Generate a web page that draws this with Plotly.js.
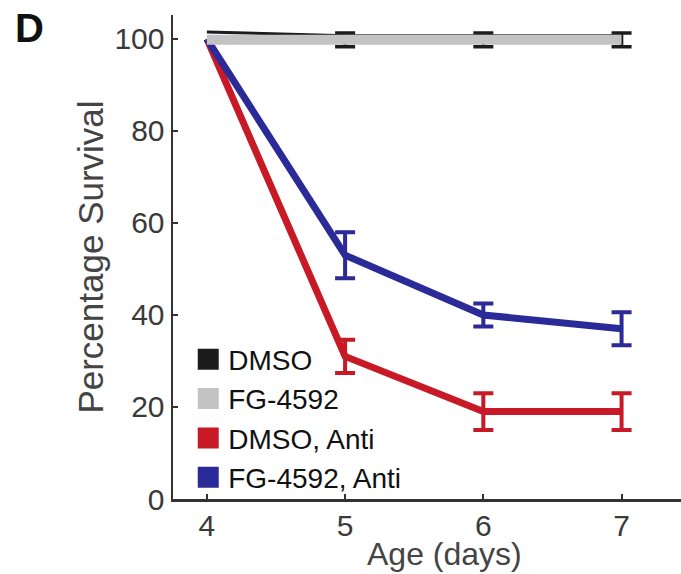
<!DOCTYPE html>
<html>
<head>
<meta charset="utf-8">
<script src="https://cdn.plot.ly/plotly-3.0.1.min.js"></script>
<style>html,body{margin:0;padding:0;background:#fff;}#chart{width:681px;height:574px;}</style>
</head>
<body>
<div id="chart"></div>
<script>
// Age (days)
var ages = [4, 5, 6, 7];
var xTickLabels = ['4', '5', '6', '7'];
var yTickVals = [0, 20, 40, 60, 80, 100];

// Percentage survival per group
var dmso = [101.5, 100.7, 100.7, 100.7];
var fg4592 = [99.8, 99.8, 99.8, 99.8];
var fg4592Err = [NaN, 1.5, 1.5, 1.5];
var dmsoAnti = [100, 31, 19, 19];
var dmsoAntiErr = [NaN, 3.6, 4, 4];
var fgAnti = [100, 53, 40, 37];
var fgAntiErr = [NaN, 5, 2.5, 3.6];

var names = ['DMSO', 'FG-4592', 'DMSO, Anti', 'FG-4592, Anti'];
var colors = ['#1c1c1c', '#c3c3c3', '#c81a26', '#2a2a98'];

var font = 'Liberation Sans, Arial, Helvetica, sans-serif';

var traces = [
  {x: ages, y: dmsoAnti, mode: 'lines', showlegend: false,
   line: {color: colors[2], width: 7},
   error_y: {type: 'data', array: dmsoAntiErr, color: colors[2], thickness: 4, width: 10}},
  {x: ages, y: fgAnti, mode: 'lines', showlegend: false,
   line: {color: colors[3], width: 7},
   error_y: {type: 'data', array: fgAntiErr, color: colors[3], thickness: 4, width: 10}},
  {x: ages, y: dmso, mode: 'lines', showlegend: false,
   line: {color: colors[0], width: 3}},
  {x: ages, y: fg4592, mode: 'lines', showlegend: false,
   line: {color: colors[1], width: 10},
   error_y: {type: 'data', array: fg4592Err, color: colors[0], thickness: 3.5, width: 10}}
];
// legend entries (square swatches)
for (var i = 0; i < names.length; i++) {
  traces.push({x: [null], y: [null], mode: 'markers', name: names[i],
    marker: {symbol: 'square', size: 16, color: colors[i], line: {color: colors[i], width: 5}}});
}

var layout = {
  width: 681, height: 574,
  margin: {l: 173, r: 0, t: 15, b: 75},
  paper_bgcolor: '#fff', plot_bgcolor: '#fff',
  font: {family: font, color: '#333'},
  showlegend: true,
  legend: {x: 0.03, y: 0.34, xanchor: 'left', yanchor: 'top', bgcolor: 'rgba(0,0,0,0)',
           font: {size: 28, color: '#111', family: font}, traceorder: 'normal'},
  xaxis: {range: [3.755, 7.43], tickvals: ages, ticktext: xTickLabels,
          showline: true, linecolor: '#333', linewidth: 2.5, mirror: false,
          ticks: 'inside', ticklen: 5, tickwidth: 2, tickcolor: '#333',
          showgrid: false, zeroline: false, ticklabelstandoff: -2,
          tickfont: {size: 30, color: '#3a3a3a', family: font}},
  yaxis: {range: [0, 105.2], tickvals: yTickVals,
          showline: true, linecolor: '#333', linewidth: 2.5,
          ticks: 'inside', ticklen: 5, tickwidth: 2, tickcolor: '#333',
          showgrid: false, zeroline: false, ticklabelstandoff: 0,
          tickfont: {size: 30, color: '#3a3a3a', family: font},
          title: {text: 'Percentage Survival\u00a0\u00a0\u00a0', standoff: 0, font: {size: 35, color: '#444', family: font}}},
  annotations: [
    {text: 'Age (days)', xref: 'paper', yref: 'paper', x: 0.535, y: -0.113,
     xanchor: 'center', yanchor: 'middle', showarrow: false,
     font: {size: 32, color: '#444', family: font}},
    {text: '<b>D</b>', xref: 'paper', yref: 'paper', x: -0.283, y: 0.973,
     xanchor: 'center', yanchor: 'middle', showarrow: false,
     font: {size: 40, color: '#111', family: font}}
  ]
};

Plotly.newPlot('chart', traces, layout, {displayModeBar: false, staticPlot: true});
</script>
</body>
</html>
